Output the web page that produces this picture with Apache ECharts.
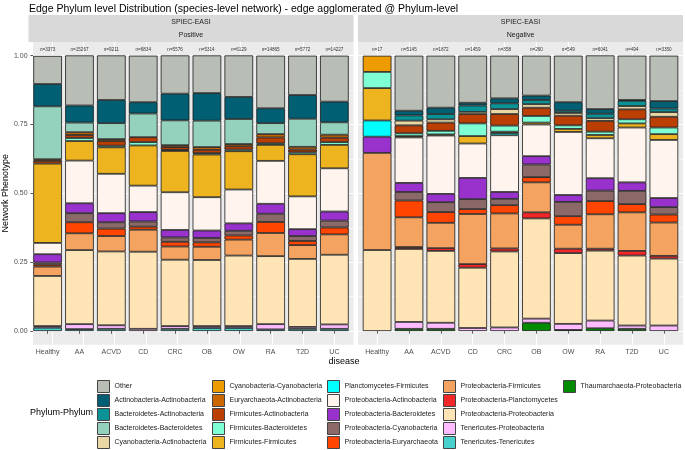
<!DOCTYPE html>
<html><head><meta charset="utf-8">
<script src="https://cdn.jsdelivr.net/npm/echarts@6/dist/echarts.min.js"></script>
<style>html,body{margin:0;padding:0;background:#fff}#c{width:685px;height:450px}</style>
</head><body><div id="c"></div><script>
// ---------------- data ----------------
const categories = ['Healthy','AA','ACVD','CD','CRC','OB','OW','RA','T2D','UC'];
const nPositive = ['n=3373','n=15267','n=9211','n=6834','n=5576','n=5314','n=6129','n=14865','n=5772','n=14227'];
const nNegative = ['n=17','n=5145','n=1872','n=1459','n=358','n=260','n=549','n=6041','n=494','n=3350'];
const yTickValues = [0, 0.25, 0.5, 0.75, 1];
const yMinorValues = [0.125, 0.375, 0.625, 0.875];
const pairNames = [
  'Other','Actinobacteria-Actinobacteria','Bacteroidetes-Actinobacteria','Bacteroidetes-Bacteroidetes',
  'Cyanobacteria-Actinobacteria','Cyanobacteria-Cyanobacteria','Euryarchaeota-Actinobacteria',
  'Firmicutes-Actinobacteria','Firmicutes-Bacteroidetes','Firmicutes-Firmicutes','Planctomycetes-Firmicutes',
  'Proteobacteria-Actinobacteria','Proteobacteria-Bacteroidetes','Proteobacteria-Cyanobacteria',
  'Proteobacteria-Euryarchaeota','Proteobacteria-Firmicutes','Proteobacteria-Planctomycetes',
  'Proteobacteria-Proteobacteria','Tenericutes-Proteobacteria','Tenericutes-Tenericutes',
  'Thaumarchaeota-Proteobacteria'
];
// fractions per bar, in pairNames order
const posHealthy = [.102,.081,0,.192,0,0,.006,.010,0,.288,0,.041,.030,.008,.007,.034,0,.182,.006,.012,0];
const posAA      = [.182,.062,0,.035,0,0,.010,.011,.011,.071,0,.155,.036,.033,.040,.061,0,.269,.018,.007,0];
const posACVD    = [.162,.084,0,.058,0,0,.007,.017,.006,.096,0,.143,.033,.023,.027,.056,0,.268,.013,.008,0];
const posCD      = [.169,.041,0,.086,0,0,0,.018,.012,.146,0,.096,.034,.019,.011,.080,0,.280,.008,0,0];
const posCRC     = [.139,.097,0,.090,0,0,.007,.010,.004,.150,0,.137,.027,.016,.017,.048,0,.241,.010,.008,0];
const posOB      = [.137,.100,0,.096,0,0,.010,.012,.005,.155,0,.121,.027,.016,.016,.048,0,.240,.007,.011,0];
const posOW      = [.151,.080,0,.091,0,0,.008,.012,.006,.139,0,.123,.027,.017,.015,.058,0,.256,.007,.011,0];
const posRA      = [.191,.054,0,.040,0,0,.012,.021,.006,.058,0,.156,.036,.030,.040,.084,0,.247,.019,.006,0];
const posT2D     = [.143,.086,0,.102,0,0,.010,.010,.007,.153,0,.119,.025,.018,.015,.050,0,.247,.007,.008,0];
const posUC      = [.167,.075,0,.045,0,0,.011,.016,.010,.085,0,.157,.033,.025,.025,.074,0,.253,.016,.008,0];

const negHealthy = [0,0,0,0,0,.0588,0,0,.0588,.1176,.0588,0,.0588,0,0,.3529,0,.2941,0,0,0];
const negAA      = [.200,.017,.019,0,.017,0,0,.029,.010,.005,0,.165,.033,.031,.061,.108,.007,.265,.025,0,.008];
const negACVD    = [.189,.023,.019,0,.012,0,0,.030,.013,.004,0,.212,.030,.036,.039,.092,.010,.261,.022,0,.008];
const negCD      = [.171,.010,.023,0,.008,0,0,.034,.046,.027,0,.125,.077,.036,.018,.182,.013,.219,.011,0,0];
const negCRC     = [.155,.018,.021,0,.018,0,0,.042,.022,.005,.008,.206,.025,.023,.030,.127,.011,.276,.013,0,0];
const negOB      = [.145,.016,.015,0,.013,0,0,.030,.024,.007,0,.115,.030,.046,.019,.109,.022,.364,.015,0,.030];
const negOW      = [.169,.031,.008,0,.010,0,0,.035,.013,.011,0,.229,.025,.052,.031,.087,.016,.257,.022,0,.004];
const negRA      = [.195,.017,.016,0,.010,0,0,.039,.012,.012,0,.145,.045,.038,.048,.125,.007,.254,.028,0,.010];
const negT2D     = [.161,.003,.019,0,.012,0,0,.036,.015,.015,0,.199,.031,.048,.030,.140,.017,.254,.012,0,.008];
const negUC      = [.165,.027,.013,0,.017,0,0,.039,.024,.021,0,.211,.033,.027,.029,.121,.010,.243,.020,0,0];

const positiveBars = [posHealthy,posAA,posACVD,posCD,posCRC,posOB,posOW,posRA,posT2D,posUC];
const negativeBars = [negHealthy,negAA,negACVD,negCD,negCRC,negOB,negOW,negRA,negT2D,negUC];

// ---------------- styles ----------------
const pairColors = ['#B8BDB5','#005F73','#0A9396','#94D2BD','#E9D8A6','#EE9B00','#CA6702','#BB3E03',
  '#7FFFD4','#EDB420','#00FFFF','#FFF5EE','#9932CC','#8B6969','#FF4500','#F4A460','#F0282A',
  '#FFE4B5','#FFBBFF','#48D1CC','#008B00'];
const FONT = 'Liberation Sans, Arial, Helvetica, sans-serif';
const PT = 41.9, PH = 302.9, PW = 325, LX = 28.5, RX = 358;
const INSET = PW / 10.2 * 0.1;

const chart = echarts.init(document.getElementById('c'), null, {renderer: 'canvas'});

function bgGrid(x) { return {left: x, top: PT, width: PW, height: PH, show: true, backgroundColor: '#EBEBEB', borderWidth: 0, containLabel: false}; }
function barGrid(x) { return {left: x + INSET, top: PT, width: PW - 2 * INSET, height: PH, show: false, containLabel: false}; }

function bgXAxis(gi) {
  return {type: 'value', gridIndex: gi, min: 0.4, max: 10.6,
    axisLine: {show: false}, axisLabel: {show: false},
    axisTick: {show: false, customValues: [1,2,3,4,5,6,7,8,9,10]},
    splitLine: {show: true, lineStyle: {color: '#FFFFFF', width: 1.1}}};
}
function bgYAxis(gi, labels) {
  const ax = {type: 'value', gridIndex: gi, min: -0.05, max: 1.05,
    axisLine: {show: false},
    axisTick: {show: labels, length: 2.7, customValues: yTickValues, lineStyle: {color: '#333333', width: 0.8}},
    axisLabel: {show: labels, customValues: yTickValues, margin: 5.5, fontSize: 7, color: '#4D4D4D', fontFamily: FONT,
      formatter: v => v.toFixed(2)},
    splitLine: {show: true, lineStyle: {color: '#FFFFFF', width: 1.1}}};
  if (labels) {
    ax.name = 'Network Phenotype';
    ax.nameLocation = 'middle';
    ax.nameRotate = 90;
    ax.nameGap = 21;
    ax.nameTextStyle = {fontSize: 9, color: '#000000', fontFamily: FONT};
  }
  return ax;
}
function minorYAxis(gi) {
  return {type: 'value', gridIndex: gi, min: -0.05, max: 1.05,
    axisLine: {show: false}, axisLabel: {show: false},
    axisTick: {show: false, customValues: yMinorValues},
    splitLine: {show: true, lineStyle: {color: '#FFFFFF', width: 0.5}}};
}
function catXAxis(gi) {
  return {type: 'category', gridIndex: gi, data: categories, position: 'bottom',
    axisLine: {show: false},
    axisTick: {show: true, alignWithLabel: true, length: 2.7, lineStyle: {color: '#333333', width: 0.8}},
    axisLabel: {interval: 0, margin: 3.8, fontSize: 7, color: '#4D4D4D', fontFamily: FONT},
    splitLine: {show: false}};
}
function nXAxis(gi, labels) {
  return {type: 'category', gridIndex: gi, data: labels, position: 'top',
    axisLine: {show: false}, axisTick: {show: false},
    axisLabel: {interval: 0, inside: true, margin: 5, fontSize: 4.6, color: '#333333', fontFamily: FONT},
    splitLine: {show: false}};
}
function hiddenYAxis(gi) {
  return {type: 'value', gridIndex: gi, min: -0.05, max: 1.05,
    axisLine: {show: false}, axisTick: {show: false}, axisLabel: {show: false}, splitLine: {show: false}};
}

function buildSeries(bars, xi, yi, stack) {
  const out = [];
  for (let k = pairNames.length - 1; k >= 0; k--) {
    out.push({
      name: pairNames[k], type: 'bar', stack: stack, xAxisIndex: xi, yAxisIndex: yi,
      barWidth: '90%',
      itemStyle: {color: pairColors[k], borderColor: '#1A1A1A', borderWidth: 0.8},
      emphasis: {disabled: true},
      data: bars.map(b => (b[k] > 0 ? b[k] : '-'))
    });
  }
  return out;
}

const legends = [];
const legendLeft = [97, 212, 327, 443, 563];
for (let c = 0; c < 5; c++) {
  legends.push({
    orient: 'vertical', left: legendLeft[c], top: 380, height: 90, padding: 0,
    itemWidth: 12, itemHeight: 12, itemGap: 1.0, icon: 'rect',
    selectedMode: false,
    itemStyle: {borderColor: '#444444', borderWidth: 1},
    textStyle: {fontSize: 7, lineHeight: 10, color: '#1A1A1A', fontFamily: FONT},
    data: pairNames.slice(c * 5, c * 5 + 5)
  });
}

function stripGraphics(x, label) {
  return [
    {type: 'rect', shape: {x: x, y: 15, width: PW, height: PT - 15}, style: {fill: '#D9D9D9'}, silent: true},
    {type: 'text', x: x + PW / 2, y: 22.5, style: {text: 'SPIEC-EASI', fontSize: 7, fill: '#1A1A1A', fontFamily: FONT, align: 'center', verticalAlign: 'middle'}},
    {type: 'text', x: x + PW / 2, y: 35.5, style: {text: label, fontSize: 7, fill: '#1A1A1A', fontFamily: FONT, align: 'center', verticalAlign: 'middle'}}
  ];
}

const option = {
  animation: false,
  backgroundColor: '#FFFFFF',
  grid: [bgGrid(LX), barGrid(LX), bgGrid(RX), barGrid(RX)],
  xAxis: [bgXAxis(0), catXAxis(1), nXAxis(1, nPositive), bgXAxis(2), catXAxis(3), nXAxis(3, nNegative)],
  yAxis: [bgYAxis(0, true), minorYAxis(0), hiddenYAxis(1), bgYAxis(2, false), minorYAxis(2), hiddenYAxis(3)],
  legend: legends,
  series: [].concat(buildSeries(positiveBars, 1, 2, 'pos'), buildSeries(negativeBars, 4, 5, 'neg')),
  graphic: [].concat(
    stripGraphics(LX, 'Positive'), stripGraphics(RX, 'Negative'),
    [
      {type: 'text', x: 29, y: 9.5, style: {text: 'Edge Phylum level Distribution (species-level network) - edge agglomerated @ Phylum-level', fontSize: 10.5, fill: '#000000', fontFamily: FONT, align: 'left', verticalAlign: 'middle'}},
      {type: 'text', x: 344, y: 362, style: {text: 'disease', fontSize: 9, fill: '#000000', fontFamily: FONT, align: 'center', verticalAlign: 'middle'}},
      {type: 'text', x: 30, y: 413, style: {text: 'Phylum-Phylum', fontSize: 9, fill: '#000000', fontFamily: FONT, align: 'left', verticalAlign: 'middle'}}
    ]
  )
};
chart.setOption(option);
</script></body></html>
